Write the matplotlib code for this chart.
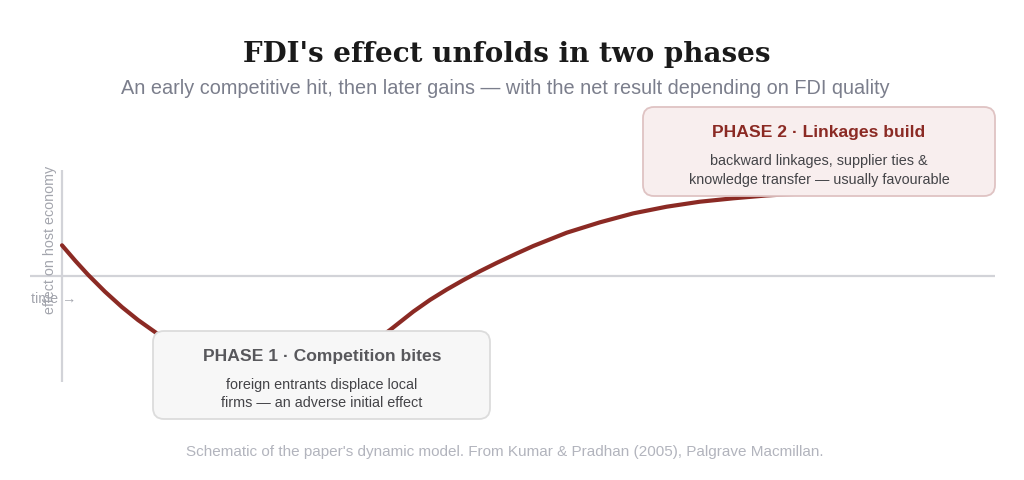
import matplotlib
matplotlib.use("Agg")
import matplotlib.pyplot as plt
from matplotlib.patches import FancyBboxPatch

# ---- data (time in % of horizon, effect in schematic units) ----
time = [0.0, 1.447, 2.787, 4.609, 6.431, 8.146, 10.182, 12.111, 14.255, 16.399,
        18.542, 20.686, 23.365, 25.509, 27.653, 29.796, 31.940, 33.548, 35.155,
        37.653, 39.443, 41.233, 43.012, 44.802, 46.592, 48.735, 50.514, 54.094,
        57.663, 61.233, 64.812, 68.382, 71.951, 75.456, 81.243, 87.674, 94.105,
        99.464]
effect = [0.307, 0.150, 0.013, -0.157, -0.311, -0.440, -0.5745, -0.683, -0.783,
          -0.863, -0.921, -0.958, -0.974, -0.960, -0.917, -0.845, -0.744, -0.650,
          -0.540, -0.356, -0.239, -0.1355, -0.041, 0.048, 0.131, 0.225, 0.300,
          0.433, 0.537, 0.6265, 0.693, 0.743, 0.777, 0.805, 0.835, 0.860, 0.880,
          0.895]

title = "FDI's effect unfolds in two phases"
subtitle = "An early competitive hit, then later gains \u2014 with the net result depending on FDI quality"
footer = "Schematic of the paper's dynamic model. From Kumar & Pradhan (2005), Palgrave Macmillan."
phase1_title = "PHASE 1 \u00b7 Competition bites"
phase1_body = "foreign entrants displace local\nfirms \u2014 an adverse initial effect"
phase2_title = "PHASE 2 \u00b7 Linkages build"
phase2_body = "backward linkages, supplier ties &\nknowledge transfer \u2014 usually favourable"
xlabel = "time \u2192"
ylabel = "effect on host economy"

W, H = 1024, 480
fig = plt.figure(figsize=(W / 100, H / 100), dpi=100)
fig.patch.set_facecolor("white")

# main data axes across the whole figure
ax = fig.add_axes([0, 0, 1, 1])
px_per_t = 9.33
px_per_e = 100.0
x0_px, y0_px = 62, 276
ax.set_xlim(-x0_px / px_per_t, (W - x0_px) / px_per_t)
ax.set_ylim(-(H - y0_px) / px_per_e, y0_px / px_per_e)
ax.axis("off")

axis_col = "#d2d3d8"
ax.plot([-(x0_px - 30) / px_per_t, (995 - x0_px) / px_per_t], [0, 0],
        color=axis_col, lw=1.6, zorder=1, solid_capstyle="butt")
ax.plot([0, 0], [-(382 - y0_px) / px_per_e, (y0_px - 170) / px_per_e],
        color=axis_col, lw=1.6, zorder=1, solid_capstyle="butt")

ax.plot(time, effect, color="#8b2a24", lw=3.0, zorder=2,
        solid_capstyle="round", solid_joinstyle="round", antialiased=True)

# overlay axes in pixel units for the annotation boxes
ov = fig.add_axes([0, 0, 1, 1], facecolor="none")
ov.set_xlim(0, W)
ov.set_ylim(H, 0)
ov.axis("off")

b1 = FancyBboxPatch((153, 331), 337, 88, boxstyle="round,pad=0,rounding_size=11",
                    fc="#f7f7f7", ec="#dcdcdc", lw=1.3, zorder=3)
ov.add_patch(b1)
b2 = FancyBboxPatch((643, 107), 352, 89, boxstyle="round,pad=0,rounding_size=11",
                    fc="#f8eeee", ec="#dfc3c3", lw=1.3, zorder=3)
ov.add_patch(b2)

sans = "Liberation Sans"
ov.text(322, 357, phase1_title, ha="center", va="center", fontsize=12.6,
        fontweight="bold", color="#58585c", family=sans, zorder=4)
ov.text(322, 394, phase1_body, ha="center", va="center", fontsize=10.4,
        color="#444448", family=sans, linespacing=1.42, zorder=4)
ov.text(819, 133, phase2_title, ha="center", va="center", fontsize=12.6,
        fontweight="bold", color="#8b2a24", family=sans, zorder=4)
ov.text(819, 170.5, phase2_body, ha="center", va="center", fontsize=10.4,
        color="#444448", family=sans, linespacing=1.42, zorder=4)

ov.text(31, 299, xlabel, ha="left", va="center", fontsize=10.3, color="#a3a5ad",
        family=sans, zorder=1)
ov.text(50, 240, ylabel, ha="center", va="center", rotation=90, fontsize=10.3,
        color="#a3a5ad", family=sans, zorder=1)

t = ov.text(507, 61.7, title, ha="center", va="baseline", fontsize=20,
            fontweight="bold", color="#1a1a1a", family="DejaVu Serif")
ov.text(505, 89, subtitle, ha="center", va="center", fontsize=14.3,
        color="#7b7e8c", family=sans)
ov.text(505, 452, footer, ha="center", va="center", fontsize=10.95,
        color="#b2b4bd", family=sans)

# fit title width to the reference (~528 px)
fig.canvas.draw()
w = t.get_window_extent().width
t.set_fontsize(20 * 528 / w)

fig.savefig("out.png", dpi=100, facecolor="white")
